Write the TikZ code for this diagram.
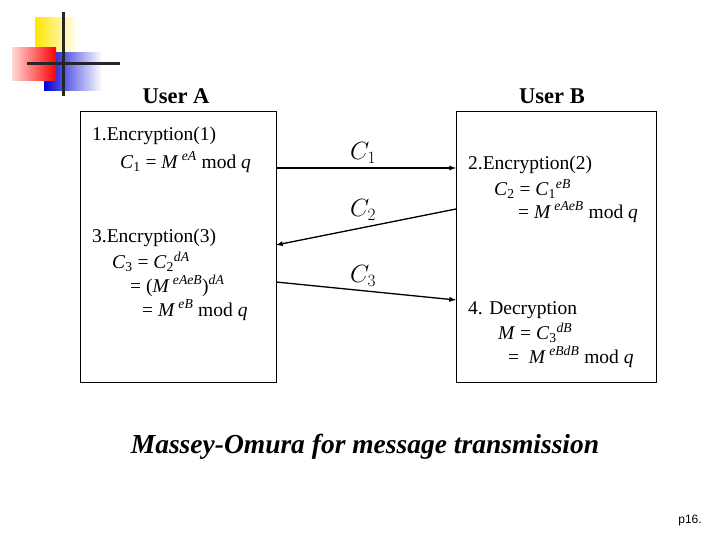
\documentclass[tikz,border=0pt]{standalone}
\usepackage{fontspec}
\setmainfont{Liberation Serif}
\newfontfamily\sansf{Liberation Sans}
\newcommand{\I}[1]{\textit{#1}}
\newcommand{\sps}[1]{\textsuperscript{\itshape #1}}
\newcommand{\sbs}[1]{\textsubscript{#1}}
\begin{document}
\begin{tikzpicture}[x=1pt,y=-1pt,
  box/.style={draw,line width=1pt},
  txt/.style={anchor=west,inner sep=0,font=\fontsize{19.5}{19.5}\selectfont},
  hdr/.style={inner sep=0,font=\fontsize{22.5}{22.5}\selectfont\bfseries},
  cl/.style={inner sep=0,font=\fontsize{23}{23}\selectfont},
  arr/.style={-latex,line width=1.3pt}]
\useasboundingbox (0,0) rectangle (720,540);
% decoration
\shade[left color=yellow!80!orange,right color=white] (35,18) rectangle (78,54);
\shade[left color=blue!85!black,right color=white] (44,53) rectangle (102,91);
\shade[left color=red!15,right color=red] (12,48) rectangle (56,81);
\draw[line width=3pt,black!85] (63,12) -- (63,96);
\draw[line width=3pt,black!85] (27,64) -- (120,64);
% boxes
\node[box,minimum width=196,minimum height=270,inner sep=0] (A) at (178,247) {};
\node[box,minimum width=200,minimum height=270,inner sep=0] (B) at (556,247) {};
\node[hdr] (ua) at (176,96) {User A};
\node[hdr] (ub) at (552,96) {User B};
% left text
\node[txt] (l1) at (92,136) {1.Encryption(1)};
\node[txt] (l2) at (120,162) {\I{C}\sbs{1} = \I{M}\,\sps{eA} mod \I{q}};
\node[txt] (l3) at (92,238) {3.Encryption(3)};
\node[txt] (l4) at (112,262) {\I{C}\sbs{3} = \I{C}\sbs{2}\sps{dA}};
\node[txt] (l5) at (130,286) {= (\I{M}\,\sps{eAeB})\sps{dA}};
\node[txt] (l6) at (142,310) {= \I{M}\,\sps{eB} mod \I{q}};
% right text
\node[txt] (r1) at (468,165) {2.Encryption(2)};
\node[txt] (r2) at (494,189) {\I{C}\sbs{2} = \I{C}\sbs{1}\sps{eB}};
\node[txt] (r3) at (518,212) {= \I{M}\,\sps{eAeB} mod \I{q}};
\node[txt] (r4) at (468,310) {4. Decryption};
\node[txt] (r5) at (498,333) {\I{M} = \I{C}\sbs{3}\sps{dB}};
\node[txt] (r6) at (508,357) {=\ \ \I{M}\,\sps{eBdB} mod \I{q}};
% arrows
\coordinate (a1) at (276,168); \coordinate (b1) at (456,168);
\coordinate (b2) at (456,209); \coordinate (a2) at (276,245);
\coordinate (a3) at (276,282); \coordinate (b3) at (456,300);
\draw[arr] (a1) -- (b1);
\draw[arr] (b2) -- (a2);
\draw[arr] (a3) -- (b3);
\node[cl] (c1) at (363,153) {$C_1$};
\node[cl] (c2) at (363,210) {$C_2$};
\node[cl] (c3) at (363,276) {$C_3$};
\node[inner sep=0,font=\fontsize{27.5}{27.5}\selectfont\bfseries\itshape] (t) at (365,447) {Massey-Omura for message transmission};
\node[inner sep=0,font=\sansf\fontsize{12}{12}\selectfont] (p) at (690,521) {p16.};
\end{tikzpicture}
\end{document}
